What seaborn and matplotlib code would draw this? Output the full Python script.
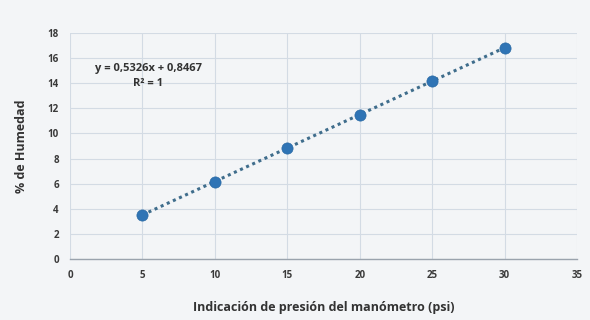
import numpy as np
import pandas as pd
import matplotlib
matplotlib.use("Agg")
import matplotlib.pyplot as plt
import seaborn as sns

# Data
presion_psi = [5, 10, 15, 20, 25, 30]
humedad_pct = [3.51, 6.17, 8.84, 11.50, 14.16, 16.82]
x_ticks = [0, 5, 10, 15, 20, 25, 30, 35]
y_ticks = [0, 2, 4, 6, 8, 10, 12, 14, 16, 18]
slope, intercept = 0.5326, 0.8467
eq_text = "y = 0,5326x + 0,8467"
r2_text = "R² = 1"

df = pd.DataFrame({"x": presion_psi, "y": humedad_pct})

sns.set_theme(style="white")
plt.rcParams['font.family'] = ['Open Sans', 'DejaVu Sans']

fig = plt.figure(figsize=(5.9, 3.2), dpi=100)
fig.patch.set_facecolor("#f3f5f7")
ax = fig.add_axes([0.1186, 0.1906, 0.8594, 0.7064])
ax.set_facecolor("#f3f5f7")

# trendline
xs = np.array([presion_psi[0], presion_psi[-1]])
ax.plot(xs, slope * xs + intercept, linestyle=(0, (1, 1.2)), color="#3f6d8c",
        linewidth=2.2, zorder=2)
sns.scatterplot(data=df, x="x", y="y", ax=ax, s=65, color="#2f74b5",
                edgecolor="#2a6aa5", linewidth=0.5, zorder=3, legend=False)

ax.set_xlim(0, 35)
ax.set_ylim(0, 18)
ax.set_xticks(x_ticks)
ax.set_yticks(y_ticks)
ax.set_xticklabels([str(t) for t in x_ticks], fontsize=7, fontweight="bold", color="#3a3a3a")
ax.set_yticklabels([str(t) for t in y_ticks], fontsize=7, fontweight="bold", color="#3a3a3a")
ax.tick_params(axis="both", length=0, pad=8)
ax.grid(True, color="#d3dbe4", linewidth=0.8)
for s in ["top", "right", "left"]:
    ax.spines[s].set_visible(False)
ax.spines["bottom"].set_color("#9aa3ad")
ax.spines["bottom"].set_linewidth(1.0)

ax.set_xlabel("Indicación de presión del manómetro (psi)", fontsize=9,
              fontweight="bold", color="#333333", labelpad=14)
ax.set_ylabel("% de Humedad", fontsize=9, fontweight="bold", color="#333333", labelpad=14)

ax.text(5.4, 15.2, eq_text, fontsize=8, fontweight="bold", color="#333333",
        ha="center", va="center")
ax.text(5.4, 14.0, r2_text, fontsize=8, fontweight="bold", color="#333333",
        ha="center", va="center")

fig.savefig("out.png", dpi=100, facecolor=fig.get_facecolor())
